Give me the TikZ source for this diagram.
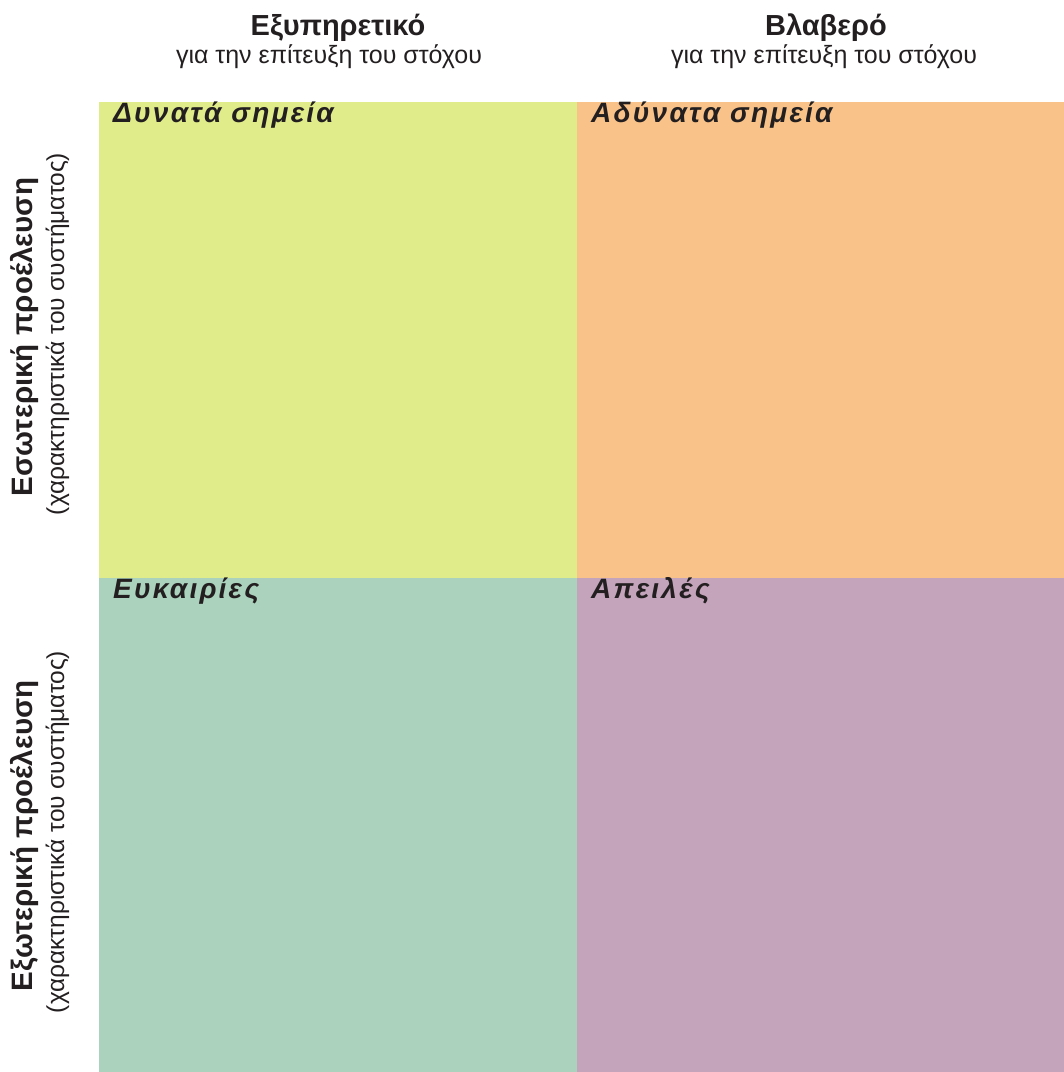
\documentclass[tikz,border=0pt]{standalone}
\usepackage{fontspec}
\setmainfont{Liberation Sans}
\usepackage{tikz}
\usetikzlibrary{positioning}

\definecolor{strclr}{HTML}{E0EC8A}
\definecolor{weakclr}{HTML}{F9C288}
\definecolor{oppclr}{HTML}{AAD2BC}
\definecolor{thrclr}{HTML}{C4A4BA}
\definecolor{inkclr}{HTML}{231F20}

\begin{document}
\begin{tikzpicture}[
  x=1pt, y=-1pt,
  every node/.style={text=inkclr, inner sep=0pt},
  quad/.style={anchor=north west, minimum width=478pt, minimum height=476pt},
  colhead/.style={font=\fontsize{29}{31}\selectfont\bfseries, anchor=base},
  colsub/.style={font=\fontsize{25}{27}\selectfont, anchor=base},
  rowhead/.style={font=\fontsize{29.5}{31}\selectfont\bfseries, rotate=90, anchor=base},
  rowsub/.style={font=\fontsize{24.5}{27}\selectfont, rotate=90, anchor=base},
  quadlbl/.style={font=\fontsize{28}{30}\selectfont\bfseries\itshape\addfontfeature{LetterSpace=8}, anchor=base west},
]
  \useasboundingbox (0,0) rectangle (1064,1072);

  % the four fields
  \node[quad, fill=strclr] (str) at (99,102) {};
  \node[quad, fill=weakclr, minimum width=487pt] (weak) at (577,102) {};
  \node[quad, fill=oppclr, minimum height=494pt] (opp) at (99,578) {};
  \node[quad, fill=thrclr, minimum width=487pt, minimum height=494pt] (thr) at (577,578) {};

  % field titles
  \node[quadlbl] (strlbl) at (113,122) {Δυνατά σημεία};
  \node[quadlbl] (weaklbl) at (591,122) {Αδύνατα σημεία};
  \node[quadlbl] (opplbl) at (113,598) {Ευκαιρίες};
  \node[quadlbl] (thrlbl) at (591,598) {Απειλές};

  % column headings
  \node[colhead] (helpful) at (338,35) {Εξυπηρετικό};
  \node[colsub] (helpsub) at (329,63) {για την επίτευξη του στόχου};
  \node[colhead] (harmful) at (826,35) {Βλαβερό};
  \node[colsub] (harmsub) at (824,63) {για την επίτευξη του στόχου};

  % row headings
  \node[rowhead] (internal) at (32,337) {Εσωτερική προέλευση};
  \node[rowsub] (intsub) at (64,334) {(χαρακτηριστικά του συστήματος)};
  \node[rowhead] (external) at (32,836) {Εξωτερική προέλευση};
  \node[rowsub] (extsub) at (64,832) {(χαρακτηριστικά του συστήματος)};
\end{tikzpicture}
\end{document}
